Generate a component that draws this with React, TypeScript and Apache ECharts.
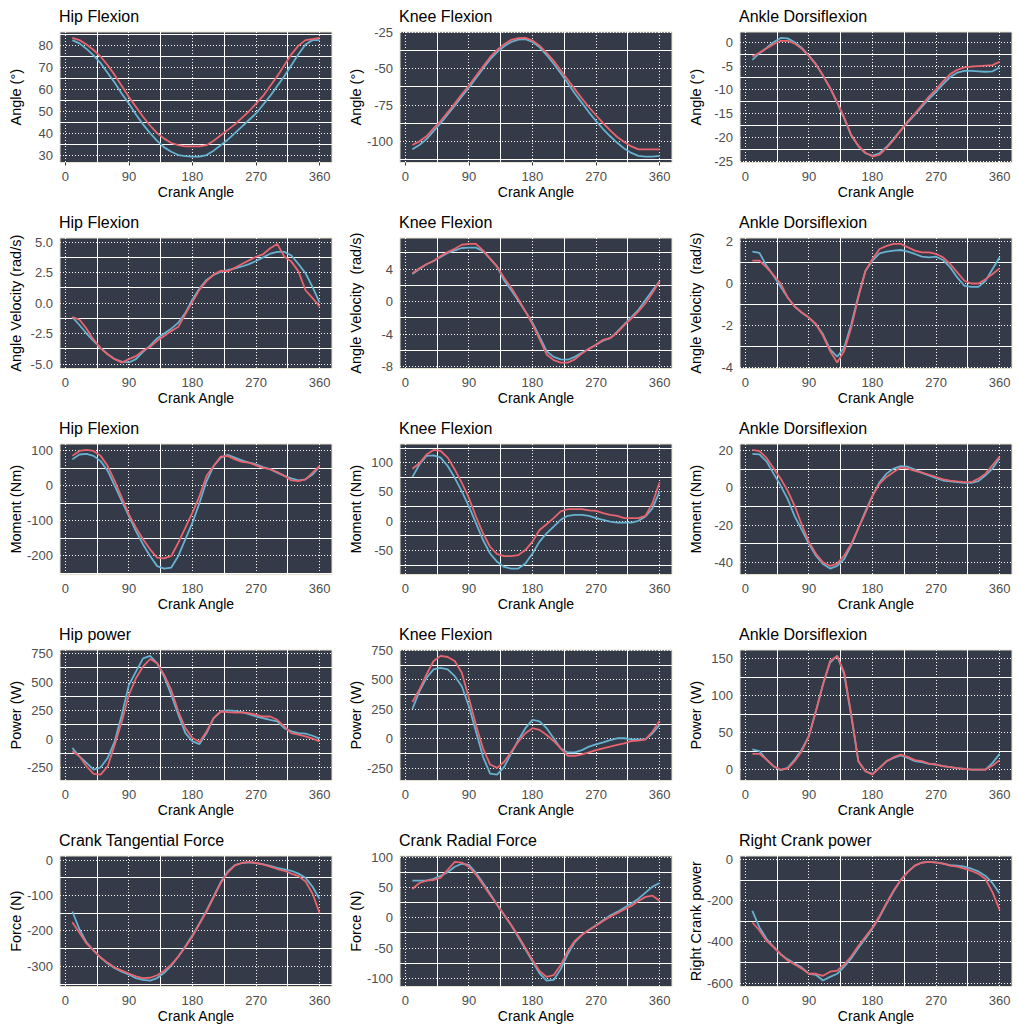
import React, { useEffect, useRef } from "react";
import * as echarts from "echarts";

// ---------- DATA ----------
const crankAngle = [10, 20, 30, 40, 50, 60, 70, 80, 90, 100, 110, 120, 130, 140, 150, 160, 170, 180, 190, 200, 210, 220, 230, 240, 250, 260, 270, 280, 290, 300, 310, 320, 330, 340, 350, 360];
const xTicks = [0, 90, 180, 270, 360];

// Row 1: joint angles
const hipAngleRed = [83.5, 82.5, 80.5, 78, 75, 71, 66.5, 61.5, 56.5, 52, 47.5, 43.5, 40, 37.5, 35.5, 34.5, 34, 34, 34, 34.5, 36.5, 39, 41.5, 44, 47, 50, 53.5, 57, 61.5, 66, 71, 76, 80, 82.5, 83, 83.5];
const hipAngleBlue = [82.5, 81, 78.5, 75.5, 72, 67.5, 63, 58, 53.5, 48.5, 44, 40, 36.5, 33.5, 31.5, 30, 29.5, 29.3, 29.3, 30, 32, 34.5, 37, 40, 43, 46, 49, 53, 57, 61.5, 66, 71, 76, 80.5, 82.5, 82.5];
const hipAngleTicks = [30, 40, 50, 60, 70, 80];

const kneeAngleRed = [-102.5, -100, -96.5, -91, -86, -80, -74, -67.5, -61.5, -55, -48.5, -42, -37, -33, -30, -28.8, -28.7, -30.5, -34, -39, -44.5, -51, -57.5, -64, -70.5, -76.5, -82, -87.5, -92.5, -97, -100.5, -103.5, -105.5, -105.5, -105.5, -105.5];
const kneeAngleBlue = [-105.5, -102.5, -98.5, -93, -87.5, -81.5, -75.5, -69, -63, -56.5, -50, -43.5, -38.5, -34.5, -31.5, -29.8, -29.5, -31.5, -35, -40.5, -46.5, -53, -60, -67, -73.5, -80, -86, -91.5, -96.5, -101, -105, -108, -110, -110.5, -110.5, -110];
const kneeAngleTicks = [-100, -75, -50, -25];

const ankleAngleRed = [-3, -2.2, -1.3, -0.4, 0.3, 0.3, -0.3, -1.4, -2.9, -4.7, -7, -9.6, -12.6, -15.8, -19.5, -21.7, -23.2, -24, -23.6, -22.2, -20.5, -18.5, -16.6, -15, -13.2, -11.4, -9.9, -8.2, -6.7, -5.8, -5.3, -5.1, -5, -4.9, -4.8, -4.1];
const ankleAngleBlue = [-3.7, -2.3, -1.2, 0, 0.9, 0.8, 0, -1.2, -2.8, -4.6, -7, -9.6, -12.7, -16, -19.6, -21.8, -23.3, -23.8, -23.3, -22, -20.3, -18.5, -16.8, -15.2, -13.5, -11.9, -10.4, -8.8, -7.3, -6.4, -6, -6, -6.1, -6.2, -6.1, -5.3];
const ankleAngleTicks = [-25, -20, -15, -10, -5, 0];

// Row 2: angular velocities
const hipVelRed = [-1.15, -1.35, -2.1, -3.0, -3.7, -4.2, -4.6, -4.88, -4.6, -4.35, -3.9, -3.6, -3.1, -2.7, -2.3, -1.95, -0.9, 0.1, 1.1, 1.8, 2.35, 2.65, 2.6, 2.9, 3.2, 3.5, 3.8, 4.0, 4.5, 4.85, 3.8, 3.4, 2.6, 1.05, 0.4, -0.27];
const hipVelBlue = [-1.15, -1.8, -2.5, -3.1, -3.7, -4.2, -4.6, -4.8, -4.87, -4.6, -4.0, -3.5, -2.9, -2.5, -2.1, -1.6, -0.8, 0.3, 1.2, 1.9, 2.3, 2.55, 2.7, 2.85, 3.0, 3.2, 3.45, 3.75, 4.05, 4.2, 4.2, 3.9, 3.2, 2.45, 1.3, 0.03];
const hipVelTicks = [-5, -2.5, 0, 2.5, 5];

const kneeVelRed = [3.5, 4.1, 4.6, 5.0, 5.6, 6.1, 6.5, 7.0, 7.1, 7.1, 6.3, 5.3, 4.3, 2.9, 1.7, 0.3, -1.2, -2.8, -4.6, -6.5, -7.2, -7.5, -7.5, -7.1, -6.4, -5.8, -5.3, -4.7, -4.5, -3.8, -2.9, -2.1, -1.2, -0.2, 1.1, 2.5];
const kneeVelBlue = [3.4, 4.0, 4.6, 5.0, 5.5, 6.0, 6.3, 6.6, 6.65, 6.65, 6.2, 5.3, 4.3, 2.6, 1.4, 0.1, -1.2, -2.6, -4.3, -6.1, -6.8, -7.1, -7.15, -6.8, -6.3, -5.8, -5.3, -4.8, -4.5, -3.7, -2.8, -1.9, -1.0, 0.2, 1.4, 2.5];
const kneeVelTicks = [-8, -4, 0, 4];

const ankleVelRed = [1.09, 1.09, 0.77, 0.4, 0.0, -0.67, -1.12, -1.39, -1.63, -1.95, -2.5, -3.23, -3.78, -3.23, -2.1, -0.67, 0.6, 1.17, 1.65, 1.8, 1.89, 1.89, 1.73, 1.57, 1.49, 1.49, 1.41, 1.25, 0.93, 0.53, 0.13, 0.0, 0.0, 0.2, 0.45, 0.72];
const ankleVelBlue = [1.52, 1.46, 0.85, 0.37, -0.16, -0.67, -1.1, -1.4, -1.63, -1.95, -2.43, -3.15, -3.5, -3.07, -1.95, -0.6, 0.6, 1.09, 1.44, 1.52, 1.57, 1.6, 1.52, 1.41, 1.28, 1.25, 1.28, 1.12, 0.77, 0.29, -0.11, -0.16, -0.16, 0.13, 0.69, 1.25];
const ankleVelTicks = [-4, -2, 0, 2];

// Row 3: joint moments
const hipMomRed = [86, 100, 103, 100, 86, 57, 14, -33, -81, -119, -152, -181, -205, -207, -200, -162, -119, -76, -29, 29, 57, 84, 86, 76, 69, 67, 59, 52, 48, 40, 29, 16, 14, 19, 38, 57];
const hipMomBlue = [76, 90, 92, 86, 71, 43, 0, -43, -86, -129, -167, -200, -229, -236, -233, -200, -152, -105, -48, 14, 57, 81, 89, 81, 73, 67, 62, 54, 48, 38, 29, 22, 16, 19, 33, 55];
const hipMomTicks = [-200, -100, 0, 100];

const kneeMomRed = [89.7, 98.9, 114, 121.8, 120, 108.6, 88.5, 65.5, 39.7, 8, -20.7, -43.7, -56.3, -59.8, -59.8, -58, -49.4, -35, -15, -5.2, 5.2, 16.7, 20.7, 20.7, 20.7, 18.4, 17.8, 13.8, 10.9, 9.2, 5.2, 5.2, 5.2, 9.2, 31, 66.7];
const kneeMomBlue = [75.3, 97, 111.5, 112.6, 108.6, 94.3, 74.1, 51, 25.3, -3.4, -32.2, -55.2, -69.5, -78.2, -81, -81, -72.4, -55.2, -35, -20.7, -9.2, 2.3, 9.2, 10.9, 10.9, 9.2, 5.2, 2.3, -0.6, -2.3, -2.3, -2.3, 0.6, 8, 22.4, 51];
const kneeMomTicks = [-50, 0, 50, 100];

const ankleMomRed = [20.4, 19.8, 16.1, 10.6, 5, -1.5, -9.7, -19.8, -28.9, -35.3, -39.9, -41.8, -40.5, -36.3, -29.9, -21.6, -13.4, -4.2, 2.2, 5.9, 8.6, 11, 10.4, 9.2, 8.2, 7.1, 5.9, 4.6, 4, 3.5, 3.1, 3.1, 5, 7.7, 12.3, 16.8];
const ankleMomBlue = [18.3, 18, 14.3, 7.7, 1.3, -6, -15.2, -22.5, -29.9, -36.3, -40.8, -43.2, -41.8, -38.1, -30.8, -21.6, -12.5, -4.2, 3.1, 7.7, 10.4, 11.7, 11.4, 9.9, 8.1, 6.8, 5.3, 4, 3.5, 3.1, 2.7, 2.7, 3.7, 6.8, 10.4, 15.9];
const ankleMomTicks = [-40, -20, 0, 20];

// Row 4: joint powers
const hipPowRed = [-108, -152, -239, -306, -312, -239, -50, 155, 388, 534, 636, 703, 665, 563, 431, 242, 96, 9, -26, 67, 184, 242, 236, 233, 233, 227, 213, 198, 198, 169, 111, 52, 38, 23, 3, -20];
const hipPowBlue = [-79, -152, -210, -268, -248, -166, -20, 213, 475, 592, 709, 730, 665, 548, 388, 213, 52, -20, -44, 52, 184, 242, 251, 248, 236, 219, 198, 184, 169, 155, 96, 67, 52, 47, 29, 3];
const hipPowTicks = [-250, 0, 250, 500, 750];

const kneePowRed = [312, 418, 545, 659, 702, 693, 659, 560, 347, 119, -80, -216, -244, -193, -108, -23, 48, 91, 77, 34, -17, -80, -142, -142, -131, -114, -94, -80, -65, -51, -37, -17, -14, -3, 63, 153];
const kneePowBlue = [253, 403, 517, 588, 602, 588, 531, 446, 276, 63, -151, -293, -301, -236, -122, -9, 91, 162, 148, 91, 6, -80, -114, -114, -94, -65, -45, -28, -9, 6, 6, -3, -3, -3, 48, 119];
const kneePowTicks = [-250, 0, 250, 500, 750];

const anklePowRed = [21.2, 21.2, 13.6, 4.5, 0, 1.4, 11.3, 24.9, 45.2, 79.1, 115.2, 146.8, 153.6, 131, 74.6, 11.3, -2.3, -6.8, 2.3, 11.3, 16.7, 20.3, 17.2, 12.7, 11.3, 8.1, 6.8, 4.5, 3.2, 1.8, 0.9, 0, 0, 0, 5.4, 12.7];
const anklePowBlue = [27.1, 24.9, 13.6, 4.5, -0.9, 2.3, 13.6, 27.1, 45.2, 79.1, 115.2, 144.6, 153.6, 128.8, 72.3, 11.3, -2.3, -5.9, 2.3, 11.3, 15.8, 19, 15.8, 11.3, 9.9, 7.7, 6.8, 4.5, 3.2, 1.8, 0.9, 0, 0, 0, 9, 21.2];
const anklePowTicks = [0, 50, 100, 150];

// Row 5: crank
const tangForceRed = [-175, -205, -235, -255, -275, -290, -303, -312, -320, -328, -333, -332, -325, -312, -295, -272, -245, -215, -180, -145, -105, -65, -35, -15, -8, -5, -8, -12, -18, -25, -30, -38, -45, -60, -95, -150];
const tangForceBlue = [-145, -195, -232, -255, -275, -292, -305, -315, -323, -333, -338, -340, -333, -318, -298, -272, -243, -212, -178, -142, -102, -62, -32, -14, -8, -6, -8, -12, -16, -22, -26, -30, -38, -50, -75, -110];
const tangForceTicks = [-300, -200, -100, 0];

const radForceRed = [48, 58, 62, 63, 67, 80, 93, 92, 85, 72, 55, 38, 22, 5, -12, -30, -50, -70, -88, -98, -95, -78, -55, -38, -28, -20, -13, -5, 2, 8, 14, 20, 28, 35, 37, 28];
const radForceBlue = [62, 62, 62, 65, 70, 76, 85, 90, 88, 75, 58, 40, 22, 5, -12, -32, -52, -72, -92, -104, -103, -85, -60, -40, -28, -20, -12, -4, 4, 10, 17, 24, 32, 42, 52, 58];
const radForceTicks = [-100, -50, 0, 50, 100];

const crankPowRed = [-305, -345, -395, -425, -460, -490, -510, -530, -555, -555, -565, -545, -540, -510, -470, -420, -375, -330, -275, -210, -150, -100, -60, -30, -15, -12, -15, -20, -30, -35, -45, -55, -70, -95, -160, -245];
const crankPowBlue = [-250, -330, -385, -425, -460, -485, -505, -525, -555, -560, -588, -570, -555, -520, -480, -430, -385, -335, -280, -215, -155, -100, -60, -30, -15, -12, -14, -20, -28, -30, -35, -45, -58, -80, -115, -165];
const crankPowTicks = [-600, -400, -200, 0];

const titles = [
  "Hip Flexion", "Knee Flexion", "Ankle Dorsiflexion",
  "Hip Flexion", "Knee Flexion", "Ankle Dorsiflexion",
  "Hip Flexion", "Knee Flexion", "Ankle Dorsiflexion",
  "Hip power", "Knee Flexion", "Ankle Dorsiflexion",
  "Crank Tangential Force", "Crank Radial Force", "Right Crank power",
];
const yNames = [
  "Angle (°)", "Angle (°)", "Angle (°)",
  "Angle Velocity (rad/s)", "Angle Velocity  (rad/s)", "Angle Velocity  (rad/s)",
  "Moment (Nm)", "Moment (Nm)", "Moment (Nm)",
  "Power (W)", "Power (W)", "Power (W)",
  "Force (N)", "Force (N)", "Right Crank power",
];
const xName = "Crank Angle";
const redSeries = [hipAngleRed, kneeAngleRed, ankleAngleRed, hipVelRed, kneeVelRed, ankleVelRed, hipMomRed, kneeMomRed, ankleMomRed, hipPowRed, kneePowRed, anklePowRed, tangForceRed, radForceRed, crankPowRed];
const blueSeries = [hipAngleBlue, kneeAngleBlue, ankleAngleBlue, hipVelBlue, kneeVelBlue, ankleVelBlue, hipMomBlue, kneeMomBlue, ankleMomBlue, hipPowBlue, kneePowBlue, anklePowBlue, tangForceBlue, radForceBlue, crankPowBlue];
const yTickSets = [hipAngleTicks, kneeAngleTicks, ankleAngleTicks, hipVelTicks, kneeVelTicks, ankleVelTicks, hipMomTicks, kneeMomTicks, ankleMomTicks, hipPowTicks, kneePowTicks, anklePowTicks, tangForceTicks, radForceTicks, crankPowTicks];
const yDecimals = [0, 0, 0, 1, 0, 0, 0, 0, 0, 0, 0, 0, 0, 0, 0];

// ---------- STYLE / LAYOUT ----------
const RED = "#E8646E";
const BLUE = "#67B2D0";
const PANEL_BG = "#343A48";
const FONT = "'Liberation Sans', Arial, sans-serif";
const colLeft = [60, 400, 740];
const rowTop = [32, 238, 444, 650, 856];
const plotW = 272;
const plotH = 130.5;

function expand(vals: number[]) {
  const lo = Math.min(...vals);
  const hi = Math.max(...vals);
  const pad = (hi - lo) * 0.05;
  return [lo - pad, hi + pad];
}

function minors(ticks: number[], lo: number, hi: number) {
  const step = ticks[1] - ticks[0];
  const out: number[] = [];
  for (let k = -1; k < ticks.length; k++) {
    const v = (k < 0 ? ticks[0] - step : ticks[k]) + step / 2;
    if (v > lo && v < hi) out.push(v);
  }
  return out;
}

const snap = (v: number) => Math.round(v - 0.5) + 0.5;

export default function App() {
  const ref = useRef<HTMLDivElement>(null);
  useEffect(() => {
    const chart = echarts.init(ref.current!, null, { renderer: "svg" });
    const [xMin, xMax] = expand(crankAngle);
    const grid: any[] = [];
    const xAxis: any[] = [];
    const yAxis: any[] = [];
    const series: any[] = [];
    const title: any[] = [];

    titles.forEach((t, i) => {
      const col = i % 3;
      const row = Math.floor(i / 3);
      const left = colLeft[col];
      const top = rowTop[row];
      const red = redSeries[i];
      const blue = blueSeries[i];
      const [yMin, yMax] = expand([...red, ...blue]);
      const yT = yTickSets[i];
      const dec = yDecimals[i];

      title.push({
        text: t,
        left: left - 1,
        top: top - 24,
        padding: 0,
        textStyle: { fontSize: 16, fontWeight: "normal", color: "#000", fontFamily: FONT },
      });
      grid.push({
        left, top, width: plotW, height: plotH,
        show: true, backgroundColor: PANEL_BG, borderColor: "#E6E2CF", borderWidth: 1,
      });
      xAxis.push({
        gridIndex: i, type: "value", min: xMin, max: xMax,
        name: xName, nameLocation: "middle", nameGap: 22,
        nameTextStyle: { fontSize: 14, color: "#000", fontFamily: FONT },
        axisLine: { show: false },
        axisTick: { show: true, length: 3, customValues: xTicks, lineStyle: { color: "#333", width: 1 } },
        axisLabel: { customValues: xTicks, margin: 7, fontSize: 13, color: "#4D4D4D", fontFamily: FONT },
        splitLine: { show: false },
      });
      yAxis.push({
        gridIndex: i, type: "value", min: yMin, max: yMax,
        name: yNames[i], nameLocation: "middle", nameGap: 37, nameRotate: 90,
        nameTextStyle: { fontSize: 14.5, color: "#000", fontFamily: FONT },
        axisLine: { show: false },
        axisTick: { show: true, length: 3, customValues: yT, lineStyle: { color: "#333", width: 1 } },
        axisLabel: {
          customValues: yT, margin: 7, fontSize: 13, color: "#4D4D4D", fontFamily: FONT,
          formatter: (v: number) => v.toFixed(dec),
        },
        splitLine: { show: false },
      });

      const gridData: number[][] = [];
      minors(xTicks, xMin, xMax).forEach((v) => gridData.push([v, v, 0, 0]));
      minors(yT, yMin, yMax).forEach((v) => gridData.push([v, v, 1, 0]));
      xTicks.forEach((v) => gridData.push([v, v, 0, 1]));
      yT.forEach((v) => gridData.push([v, v, 1, 1]));
      series.push({
        type: "custom", xAxisIndex: i, yAxisIndex: i, z: 1, silent: true,
        data: gridData,
        renderItem: (params: any, api: any) => {
          const cs = params.coordSys;
          const pt = api.coord([api.value(0), api.value(1)]);
          const isY = api.value(2) === 1;
          const major = api.value(3) === 1;
          const px = snap(pt[0]);
          const py = snap(pt[1]);
          const shape = isY
            ? { x1: cs.x, y1: py, x2: cs.x + cs.width, y2: py }
            : { x1: px, y1: cs.y, x2: px, y2: cs.y + cs.height };
          return {
            type: "line", shape,
            style: { stroke: "#FFFFFF", lineWidth: 1, lineDash: major ? [1, 2] : null },
          };
        },
      });
      series.push({
        type: "line", name: "B", xAxisIndex: i, yAxisIndex: i, z: 2, silent: true,
        data: crankAngle.map((x, k) => [x, blue[k]]),
        showSymbol: false, symbol: "none",
        lineStyle: { color: BLUE, width: 1.8 },
      });
      series.push({
        type: "line", name: "A", xAxisIndex: i, yAxisIndex: i, z: 3, silent: true,
        data: crankAngle.map((x, k) => [x, red[k]]),
        showSymbol: false, symbol: "none",
        lineStyle: { color: RED, width: 1.8 },
      });
    });

    chart.setOption({
      animation: false,
      backgroundColor: "#FFFFFF",
      title, grid, xAxis, yAxis, series,
    });
    return () => chart.dispose();
  }, []);
  return (
    <div
      ref={ref}
      style={{ position: "fixed", left: 0, top: 0, width: 1018, height: 1032 }}
    />
  );
}
